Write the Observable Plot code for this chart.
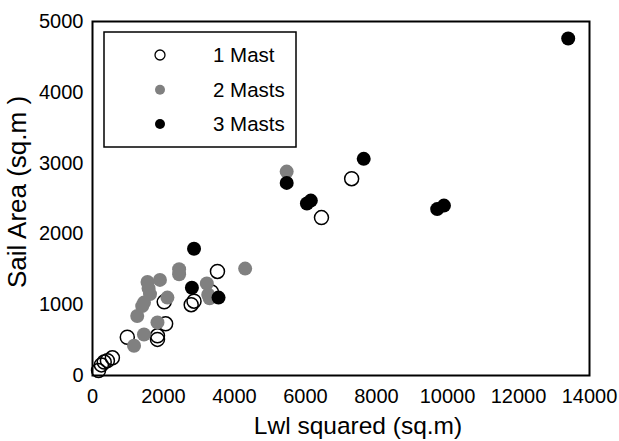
<!DOCTYPE html>
<html>
<head>
<meta charset="utf-8">
<script src="https://cdn.jsdelivr.net/npm/d3@7"></script>
<script src="https://cdn.jsdelivr.net/npm/@observablehq/plot@0.6"></script>
<style>
  html, body { margin: 0; padding: 0; background: #fff; }
  #chart { width: 619px; height: 441px; }
</style>
</head>
<body>
<div id="chart"></div>
<script>
// ---- data ----
const seriesNames = ["1 Mast", "2 Masts", "3 Masts"];

const mast1X = [170, 250, 330, 420, 560, 980, 1830, 1830, 2060, 2020, 2780, 2860, 3350, 3520, 6450, 7300];
const mast1Y = [70, 150, 190, 210, 250, 540, 510, 560, 730, 1040, 1000, 1050, 1180, 1470, 2230, 2780];

const mast2X = [1170, 1450, 1830, 1260, 1400, 1450, 2110, 1550, 1580, 1620, 1900, 2440, 2440, 3220, 3260, 3300, 4300, 5470];
const mast2Y = [420, 580, 750, 840, 980, 1030, 1100, 1320, 1230, 1150, 1350, 1500, 1430, 1300, 1140, 1090, 1510, 2880];

const mast3X = [2800, 2860, 3550, 5470, 6040, 6150, 7640, 9710, 9900, 13400];
const mast3Y = [1240, 1790, 1100, 2720, 2430, 2470, 3060, 2350, 2400, 4760];

const xTicks = [0, 2000, 4000, 6000, 8000, 10000, 12000, 14000];
const yTicks = [0, 1000, 2000, 3000, 4000, 5000];
const xTitle = "Lwl squared (sq.m)";
const yTitle = "Sail Area (sq.m )";

const toRows = (xs, ys, s) => xs.map((x, i) => ({x, y: ys[i], series: s}));
const rows1 = toRows(mast1X, mast1Y, seriesNames[0]);
const rows2 = toRows(mast2X, mast2Y, seriesNames[1]);
const rows3 = toRows(mast3X, mast3Y, seriesNames[2]);

const FONT = "'Liberation Sans', Arial, Helvetica, sans-serif";
const GREY = "#808080";

const plot = Plot.plot({
  width: 619,
  height: 441,
  marginLeft: 92,
  marginRight: 30,
  marginTop: 21,
  marginBottom: 66,
  style: {fontFamily: FONT, fontSize: "20px", color: "black", background: "white", overflow: "visible"},
  x: {domain: [0, 14000]},
  y: {domain: [0, 5000]},
  marks: [
    Plot.dot(rows1, {x: "x", y: "y", r: 7, fill: "none", stroke: "black", strokeWidth: 1.5}),
    Plot.dot(rows2, {x: "x", y: "y", r: 7, fill: GREY, stroke: "none"}),
    Plot.dot(rows3, {x: "x", y: "y", r: 7, fill: "black", stroke: "none"}),
    Plot.frame({stroke: "black", strokeWidth: 2}),
    Plot.axisX({ticks: xTicks, tickSize: 0, tickPadding: 13, tickFormat: d3.format("d"), label: null, fill: "black"}),
    Plot.axisY({ticks: yTicks, tickSize: 0, tickPadding: 9, tickFormat: d3.format("d"), label: null, fill: "black"})
  ]
});

document.getElementById("chart").appendChild(plot);

// ---- titles and legend (layout) ----
const svg = d3.select(plot);
svg.append("text")
  .attr("x", 358).attr("y", 434)
  .attr("text-anchor", "middle")
  .style("font-family", FONT).style("font-size", "24.5px").attr("fill", "black")
  .text(xTitle);

svg.append("text")
  .attr("transform", "translate(26,192) rotate(-90)")
  .attr("text-anchor", "middle")
  .style("font-family", FONT).style("font-size", "26px").attr("fill", "black")
  .text(yTitle);

const legend = svg.append("g");
legend.append("rect")
  .attr("x", 104).attr("y", 32).attr("width", 192).attr("height", 115)
  .attr("fill", "white").attr("stroke", "black").attr("stroke-width", 1.5);

const legendStyles = [
  {fill: "white", stroke: "black", sw: 1.3},
  {fill: GREY, stroke: "none", sw: 0},
  {fill: "black", stroke: "none", sw: 0}
];
const legendY = [55, 89.7, 124];
seriesNames.forEach((name, i) => {
  legend.append("circle")
    .attr("cx", 160).attr("cy", legendY[i]).attr("r", 5)
    .attr("fill", legendStyles[i].fill).attr("stroke", legendStyles[i].stroke)
    .attr("stroke-width", legendStyles[i].sw);
  legend.append("text")
    .attr("x", 213).attr("y", legendY[i] + 7)
    .attr("text-anchor", "start")
    .style("font-family", FONT).style("font-size", "20.5px").attr("fill", "black")
    .text(name);
});
</script>
</body>
</html>
